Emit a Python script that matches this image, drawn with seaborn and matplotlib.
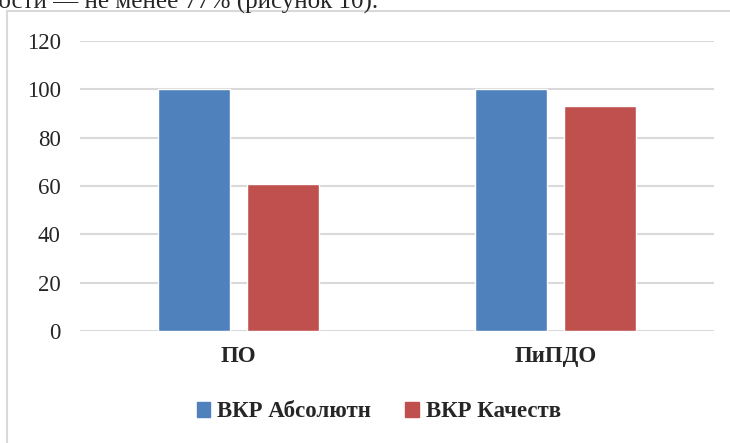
import pandas as pd
import matplotlib.pyplot as plt
import matplotlib.patches as mpatches
import seaborn as sns

# Data
categories = ['ПО', 'ПиПДО']
series_names = ['ВКР Абсолютн', 'ВКР Качеств']
absolut_values = [100, 100]
kachestvo_values = [61, 93]
y_ticks = [0, 20, 40, 60, 80, 100, 120]

df = pd.DataFrame({
    'Category': categories * 2,
    'Series': [series_names[0]] * 2 + [series_names[1]] * 2,
    'Value': absolut_values + kachestvo_values,
})

sns.set_style('white')
plt.rcParams['font.family'] = ['Liberation Serif', 'DejaVu Serif']

fig = plt.figure(figsize=(7.3, 4.43), dpi=100)
ax = fig.add_axes([0.1096, 0.2528, 0.8684, 0.6546])

palette = {series_names[0]: '#4F81BD', series_names[1]: '#C0504D'}
sns.barplot(data=df, x='Category', y='Value', hue='Series', order=categories,
            hue_order=series_names, palette=palette, width=0.5615, gap=0.19,
            saturation=1, ax=ax, zorder=3)

ax.set_ylim(0, 120)
ax.set_xlim(-0.5, 1.5)
ax.set_yticks(y_ticks)
ax.set_yticklabels([str(t) for t in y_ticks], fontsize=16.5)
ax.set_xticks(range(len(categories)))
ax.set_xticklabels(categories, fontsize=16.5, fontweight='bold')
ax.tick_params(axis='y', length=0, pad=14)
ax.tick_params(axis='x', length=0, pad=11)
ax.grid(axis='y', color='#d9d9d9', linewidth=1.5, zorder=0)
ax.set_axisbelow(True)
for s in ax.spines.values():
    s.set_visible(False)
ax.set_xlabel('')
ax.set_ylabel('')

ax.legend_.remove()
handles = [mpatches.Patch(color=palette[n], label=n) for n in series_names]
fig.legend(handles=handles, loc='center', bbox_to_anchor=(0.519, 0.07), ncol=2,
           frameon=False, prop={'weight': 'bold', 'size': 16.5},
           handlelength=0.6, handleheight=0.6, handletextpad=0.3, columnspacing=1.5)

# chart frame (continues past the right and bottom edge of the image)
frame = mpatches.Rectangle((7 / 730, -0.05), 1.0, 1 - 11 / 443 + 0.05,
                           transform=fig.transFigure, fill=False,
                           edgecolor='#d9d9d9', linewidth=1.5, clip_on=False)
fig.patches.append(frame)

# clipped line of document text above the chart
fig.text(-0.02, 1 - 8.7 / 443, 'ности — не менее 77% (рисунок 10).', fontsize=18,
         va='baseline', ha='left')

fig.savefig('out.png', dpi=100)
